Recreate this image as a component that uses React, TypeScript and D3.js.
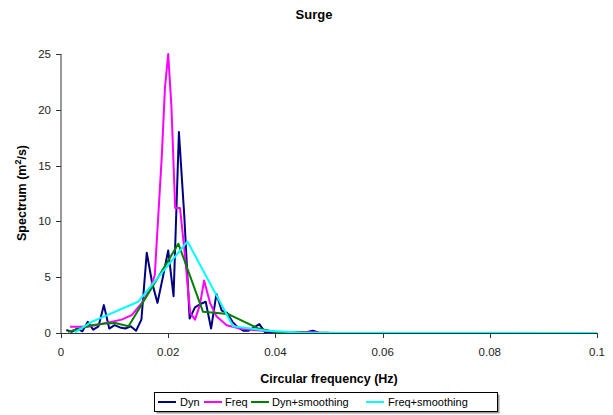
import React from "react";
import * as d3 from "d3";

const dynF = [0.001,0.002,0.003,0.004,0.005,0.006,0.007,0.008,0.009,0.010,0.011,0.012,0.013,0.014,0.015,0.016,0.017,0.018,0.019,0.020,0.021,0.022,0.023,0.024,0.025,0.026,0.027,0.028,0.029,0.030,0.031,0.032,0.033,0.034,0.035,0.036,0.037,0.038,0.039,0.040,0.041,0.042,0.043,0.044,0.045,0.046,0.047,0.048,0.049,0.050];
const dynV = [0.27,0.1,0.4,0.15,1.0,0.3,0.6,2.5,0.4,0.7,0.5,0.4,0.6,0.2,1.2,7.2,4.5,2.7,5.0,7.4,3.3,18,10.5,1.3,2.3,2.6,2.8,0.4,3.5,2.0,1.8,1.0,0.5,0.2,0.2,0.5,0.8,0.1,0.05,0.05,0.05,0.05,0.05,0.05,0.05,0.1,0.2,0.05,0.02,0.02];

const freqF = [0.0017,0.005,0.0082,0.0113,0.0132,0.0151,0.0166,0.0175,0.0188,0.0194,0.0200,0.0206,0.0213,0.0222,0.0231,0.0241,0.025,0.0259,0.0267,0.0278,0.029,0.0309,0.0334,0.0365,0.041,0.048];
const freqV = [0.56,0.56,0.87,1.2,1.6,2.7,3.9,5.2,15.8,22,25,20.3,11.2,11.2,7.1,1.8,1.2,2.5,4.7,2.7,1.5,0.7,0.4,0.25,0.1,0.05];

const dynSmF = [0.0013,0.0057,0.0082,0.0101,0.0126,0.0219,0.0265,0.0312,0.0368,0.040,0.0459];
const dynSmV = [0.1,0.7,0.85,0.9,0.6,8.0,1.9,1.7,0.4,0.1,0.05];

const freqSmF = [0.0026,0.0057,0.0144,0.0236,0.0321,0.0384,0.0446,0.1];
const freqSmV = [0.05,1.0,2.8,8.2,0.6,0.2,0.05,0.0];

const xTicks = [0, 0.02, 0.04, 0.06, 0.08, 0.1];
const xTickLabels = ["0", "0.02", "0.04", "0.06", "0.08", "0.1"];
const yTicks = [0, 5, 10, 15, 20, 25];

const seriesNames = ["Dyn", "Freq", "Dyn+smoothing", "Freq+smoothing"];
const seriesColors = ["#000080", "#FF00FF", "#008000", "#00FFFF"];

export default function App() {
  const W = 613, H = 415;
  const x = d3.scaleLinear().domain([0, 0.1]).range([61, 597]);
  const y = d3.scaleLinear().domain([0, 25]).range([333, 54]);
  const line = d3.line<[number, number]>().x(d => x(d[0])).y(d => y(d[1]));
  const series = [
    d3.zip(dynF, dynV) as [number, number][],
    d3.zip(freqF, freqV) as [number, number][],
    d3.zip(dynSmF, dynSmV) as [number, number][],
    d3.zip(freqSmF, freqSmV) as [number, number][],
  ];
  const font = "Liberation Sans, Arial, sans-serif";
  const legendItems = [
    { lx: 158, tx: 180 },
    { lx: 204, tx: 225 },
    { lx: 251, tx: 272 },
    { lx: 366, tx: 388 },
  ];
  return (
    <svg width={W} height={H} style={{ position: "absolute", left: 0, top: 0, background: "#fff" }} fontFamily={font}>
      <rect x={0} y={0} width={W} height={H} fill="#fff" />
      <text x={314} y={19} textAnchor="middle" fontSize={13} fontWeight="bold">Surge</text>
      {series.map((s, i) => (
        <path key={i} d={line(s) || ""} fill="none" stroke={seriesColors[i]} strokeWidth={2} strokeLinejoin="round" />
      ))}
      <line x1={61} x2={61} y1={54} y2={333} stroke="#333" strokeWidth={1} />
      <line x1={61} x2={597} y1={333.5} y2={333.5} stroke="#333" strokeWidth={1} />
      {yTicks.map(t => (
        <g key={t}>
          <line x1={56} x2={61} y1={Math.round(y(t)) + 0.5} y2={Math.round(y(t)) + 0.5} stroke="#333" />
          <text x={51} y={y(t) + 4} textAnchor="end" fontSize={11.5} fill="#222">{t}</text>
        </g>
      ))}
      {xTicks.map((t, i) => (
        <g key={t}>
          <line x1={Math.round(x(t)) + 0.5} x2={Math.round(x(t)) + 0.5} y1={333} y2={338} stroke="#333" />
          <text x={x(t)} y={356} textAnchor="middle" fontSize={11.5} fill="#222">{xTickLabels[i]}</text>
        </g>
      ))}
      <text x={329} y={383} textAnchor="middle" fontSize={12.5} fontWeight="bold">Circular frequency (Hz)</text>
      <text transform="translate(26,193) rotate(-90)" textAnchor="middle" fontSize={12.5} fontWeight="bold">
        Spectrum (m<tspan baselineShift="super" fontSize={9}>2</tspan>/s)
      </text>
      <rect x={156.5} y={394.5} width={343} height={19} fill="#999" />
      <rect x={154.5} y={392.5} width={343} height={19} fill="#fff" stroke="#000" />
      {seriesNames.map((n, i) => (
        <g key={n}>
          <line x1={legendItems[i].lx} x2={legendItems[i].lx + 18} y1={402} y2={402} stroke={seriesColors[i]} strokeWidth={2} />
          <text x={legendItems[i].tx} y={406} fontSize={11}>{n}</text>
        </g>
      ))}
    </svg>
  );
}
